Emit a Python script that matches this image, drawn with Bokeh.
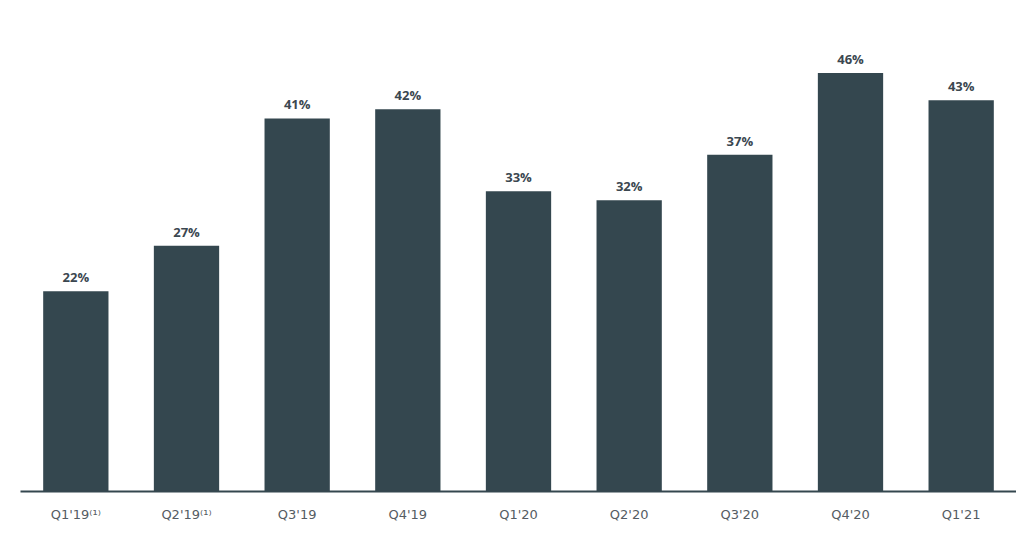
from bokeh.plotting import figure
from bokeh.models import ColumnDataSource, LabelSet, FactorRange, Range1d
from bokeh.core.properties import value
from bokeh.embed import file_html
from bokeh.resources import INLINE

quarters = ["Q1'19⁽¹⁾", "Q2'19⁽¹⁾", "Q3'19", "Q4'19", "Q1'20", "Q2'20", "Q3'20", "Q4'20", "Q1'21"]
pct = [22, 27, 41, 42, 33, 32, 37, 46, 43]
pct_labels = ["%d%%" % v for v in pct]

bar_color = "#34474f"

source = ColumnDataSource(data=dict(q=quarters, pct=pct, lbl=pct_labels))

p = figure(x_range=FactorRange(*quarters, range_padding=0), y_range=Range1d(0, 50),
           frame_width=996, frame_height=455, output_backend="svg",
           toolbar_location=None, y_axis_location=None,
           min_border_left=20, min_border_right=0, min_border_top=36, min_border_bottom=36)

p.vbar(x='q', top='pct', width=0.59, source=source, fill_color=bar_color, line_color=None)

labels = LabelSet(x='q', y='pct', text='lbl', source=source, text_align="center",
                  text_baseline="alphabetic", y_offset=9, text_font=value("Open Sans"),
                  text_font_style="bold", text_font_size="13px", text_color="#3b4750")
p.add_layout(labels)

p.xgrid.grid_line_color = None
p.ygrid.grid_line_color = None
p.outline_line_color = None
p.xaxis.axis_line_color = bar_color
p.xaxis.axis_line_width = 2
p.xaxis.major_tick_line_color = None
p.xaxis.minor_tick_line_color = None
p.xaxis.major_label_standoff = 9
p.xaxis.major_label_text_font = "DejaVu Sans"
p.xaxis.major_label_text_font_size = "13px"
p.xaxis.major_label_text_color = "#555c63"

open("out.html", "w").write(file_html(p, INLINE))
